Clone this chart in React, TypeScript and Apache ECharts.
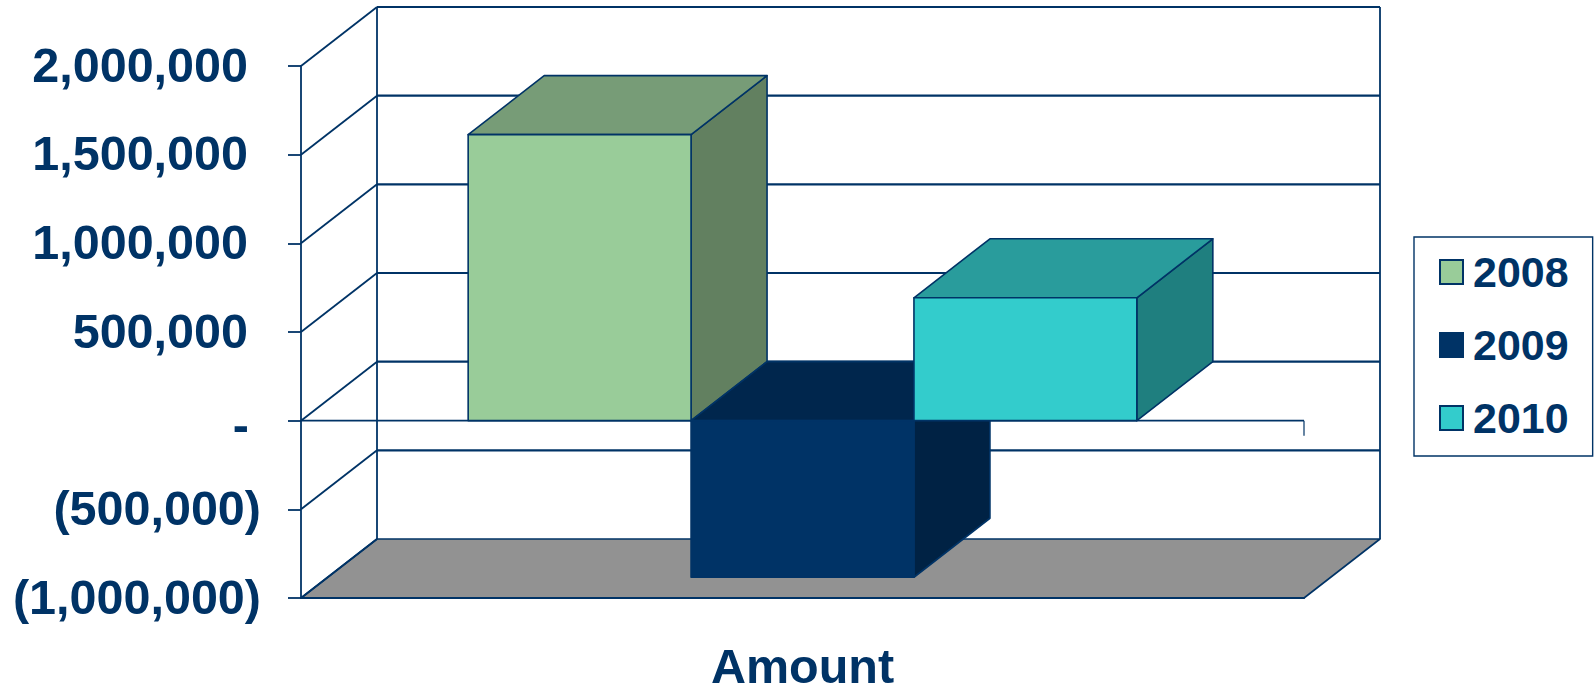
import React, { useEffect, useRef } from "react";
import * as echarts from "echarts";

const categories = ["Amount"];
const yearNames = ["2008", "2009", "2010"];
const amounts = [1613000, -883000, 693000];
const tickValues = [-1000000, -500000, 0, 500000, 1000000, 1500000, 2000000];
const tickLabels = ["(1,000,000)", "(500,000)", "-", "500,000", "1,000,000", "1,500,000", "2,000,000"];

const NAVY = "#003366";
const FONT = '"Liberation Sans", Arial, sans-serif';
const DEPTH_X = 76;
const DEPTH_Y = 59;
const BAND_UNITS = 4.5; // three bars plus the 75% gap on each side
const FACE_COLORS = [
  { front: "#99CC99", top: "#779C77", side: "#628060", stroke: NAVY },
  { front: "#003366", top: "#00264D", side: "#002244", stroke: "#003366" },
  { front: "#33CCCC", top: "#299C9C", side: "#1F7F7F", stroke: NAVY },
];

const line = (x1: number, y1: number, x2: number, y2: number, lineWidth = 1.8) => ({
  type: "line",
  shape: { x1, y1, x2, y2 },
  style: { stroke: NAVY, lineWidth, fill: null },
  silent: true,
});

const poly = (points: number[][], fill: string, stroke: string, lineWidth = 1.6) => ({
  type: "polygon",
  shape: { points },
  style: { fill, stroke, lineWidth, lineJoin: "round" },
  silent: true,
});

// Walls, floor and receding gridlines of the 3D plot box, all placed from the axis scales.
const renderFrame = (_: unknown, api: any) => {
  const band = api.size([1, 0])[0];
  const cx = api.coord([0, 0])[0];
  const left = cx - band / 2;
  const right = cx + band / 2;
  const yOf = (v: number) => api.coord([0, v])[1];
  const bottom = yOf(tickValues[0]);
  const top = yOf(tickValues[tickValues.length - 1]);
  const backL = left + DEPTH_X;
  const backR = right + DEPTH_X;
  const children: any[] = [];

  children.push(
    poly(
      [
        [left, bottom],
        [right, bottom],
        [backR, bottom - DEPTH_Y],
        [backL, bottom - DEPTH_Y],
      ],
      "#929292",
      NAVY,
      1.6
    )
  );
  tickValues.forEach((v) => {
    const y = yOf(v);
    if (v !== tickValues[0]) {
      children.push(line(backL, y - DEPTH_Y, backR, y - DEPTH_Y, 2.2));
    }
    children.push(line(left, y, backL, y - DEPTH_Y));
  });
  children.push(line(backL, top - DEPTH_Y, backL, bottom - DEPTH_Y));
  children.push(line(backR, top - DEPTH_Y, backR, bottom - DEPTH_Y));
  children.push(line(left, bottom, right, bottom, 2.2));

  // Zero baseline with its closing tick at the right end.
  const zero = yOf(0);
  children.push(line(left, zero, right, zero, 1.8));
  children.push(line(right, zero, right, zero + 15, 1.2));
  return { type: "group", children };
};

// One extruded bar: side and top faces first, then the front face.
const renderBar = (index: number) => (_: unknown, api: any) => {
  const band = api.size([1, 0])[0];
  const cx = api.coord([0, 0])[0];
  const w = band / BAND_UNITS;
  const x0 = cx - 1.5 * w + index * w;
  const x1 = x0 + w;
  const yValue = api.coord([0, api.value(1)])[1];
  const yZero = api.coord([0, 0])[1];
  const upper = Math.min(yValue, yZero);
  const lower = Math.max(yValue, yZero);
  const c = FACE_COLORS[index];
  return {
    type: "group",
    children: [
      poly(
        [
          [x1, upper],
          [x1 + DEPTH_X, upper - DEPTH_Y],
          [x1 + DEPTH_X, lower - DEPTH_Y],
          [x1, lower],
        ],
        c.side,
        c.stroke
      ),
      poly(
        [
          [x0, upper],
          [x0 + DEPTH_X, upper - DEPTH_Y],
          [x1 + DEPTH_X, upper - DEPTH_Y],
          [x1, upper],
        ],
        c.top,
        c.stroke
      ),
      poly(
        [
          [x0, upper],
          [x1, upper],
          [x1, lower],
          [x0, lower],
        ],
        c.front,
        c.stroke
      ),
    ],
  };
};

const richLabel = (padding: number[]) => ({
  color: NAVY,
  fontFamily: FONT,
  fontWeight: "bold",
  fontSize: 48.5,
  padding,
});

export default function App() {
  const ref = useRef<HTMLDivElement>(null);

  useEffect(() => {
    const chart = echarts.init(ref.current, null, { renderer: "svg" });
    chart.setOption({
      animation: false,
      backgroundColor: "#ffffff",
      grid: { left: 301, right: 290, top: 66, bottom: 90, containLabel: false, outerBoundsMode: "none" },
      legend: {
        orient: "vertical",
        left: 1414,
        top: 237,
        padding: [10, 24, 13, 25],
        itemWidth: 23,
        itemHeight: 24,
        itemGap: 23,
        backgroundColor: "#ffffff",
        borderColor: NAVY,
        borderWidth: 1.4,
        borderRadius: 0,
        data: yearNames.map((name, i) => ({
          name,
          icon: "rect",
          itemStyle: { color: FACE_COLORS[i].front, borderColor: NAVY, borderWidth: 2 },
        })),
        textStyle: {
          color: NAVY,
          fontFamily: FONT,
          fontWeight: "bold",
          fontSize: 43,
          lineHeight: 50,
          padding: [0, 0, 0, 5],
        },
      },
      xAxis: {
        type: "category",
        data: categories,
        axisLine: { onZero: false, lineStyle: { color: NAVY, width: 2 } },
        axisTick: { show: false },
        axisLabel: {
          margin: 43,
          color: NAVY,
          fontFamily: FONT,
          fontWeight: "bold",
          fontSize: 48.5,
        },
      },
      yAxis: {
        type: "value",
        min: -1000000,
        max: 2000000,
        interval: 500000,
        splitLine: { show: false },
        axisLine: { show: true, lineStyle: { color: NAVY, width: 1.8 } },
        axisTick: { show: true, length: 13, lineStyle: { color: NAVY, width: 1.8 } },
        axisLabel: {
          margin: 40,
          align: "right",
          formatter: (v: number) => {
            const text = tickLabels[tickValues.indexOf(v)];
            if (v === 0) return `{dash|${text}}`;
            return v < 0 ? `{neg|${text}}` : `{pos|${text}}`;
          },
          rich: {
            pos: richLabel([0, 13, 3, 0]),
            neg: richLabel([0, 0, 3, 0]),
            dash: richLabel([8, 12, 0, 0]),
          },
        },
      },
      series: [
        {
          name: "frame",
          type: "custom",
          renderItem: renderFrame,
          data: [[0, 0]],
          encode: { x: 0, y: 1 },
          clip: false,
          silent: true,
        },
        ...yearNames.map((name, i) => ({
          name,
          type: "custom",
          renderItem: renderBar(i),
          data: [[0, amounts[i]]],
          encode: { x: 0, y: 1 },
          itemStyle: { color: FACE_COLORS[i].front },
          clip: false,
          silent: true,
        })),
      ],
    });
    return () => chart.dispose();
  }, []);

  return (
    <div
      ref={ref}
      style={{ position: "fixed", left: 0, top: 0, width: 1594, height: 688 }}
    />
  );
}
